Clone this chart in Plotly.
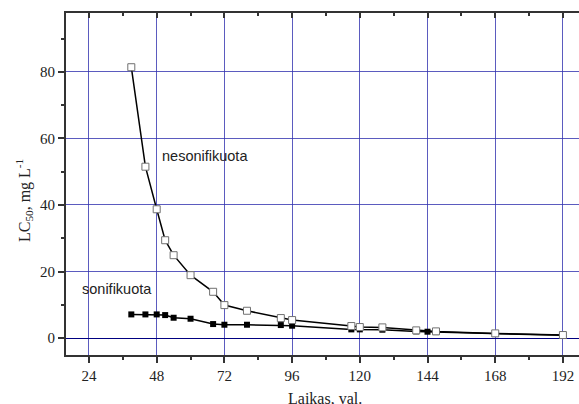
import plotly.graph_objects as go

hours_neson = [39, 44, 48, 51, 54, 60, 68, 72, 80, 92, 96, 117, 120, 128, 140, 147, 168, 192]
lc50_neson = [81.4, 51.5, 38.7, 29.4, 24.9, 18.9, 13.9, 9.9, 8.2, 6.0, 5.4, 3.6, 3.3, 3.2, 2.3, 2.0, 1.4, 0.9]

hours_son = [39, 44, 48, 51, 54, 60, 68, 72, 80, 92, 96, 117, 120, 128, 140, 144, 147, 168, 192]
lc50_son = [7.1, 7.1, 7.1, 6.9, 6.1, 5.8, 4.2, 4.0, 4.0, 3.9, 3.7, 2.6, 2.6, 2.5, 2.0, 1.9, 1.8, 1.3, 0.8]

x_ticks = [24, 48, 72, 96, 120, 144, 168, 192]
y_ticks = [0, 20, 40, 60, 80]

serif = "Liberation Serif"
sans = "Liberation Sans"

L, T, W, H = 66, 13, 513, 342  # plot area in pixels

def px_x(p):
    return (p - L) / W

def px_y(p):
    return (T + H - p) / H

fig = go.Figure()
fig.add_trace(go.Scatter(
    x=hours_son, y=lc50_son, mode="lines+markers",
    line=dict(color="black", width=1.5),
    marker=dict(symbol="square", size=6, color="black", line=dict(width=0)),
    showlegend=False, cliponaxis=False))
fig.add_trace(go.Scatter(
    x=hours_neson, y=lc50_neson, mode="lines+markers",
    line=dict(color="black", width=1.5),
    marker=dict(symbol="square", size=7, color="white", line=dict(color="#707070", width=1)),
    showlegend=False, cliponaxis=False))
fig.add_trace(go.Scatter(x=[], y=[], xaxis="x2", showlegend=False))

grid = "rgba(50,50,175,0.8)"
fig.update_layout(
    width=579, height=404,
    margin=dict(l=L, r=0, t=T, b=404 - T - H),
    paper_bgcolor="white", plot_bgcolor="white",
    xaxis=dict(
        range=[15.85, 197.7], tickvals=x_ticks, ticktext=[str(v) for v in x_ticks],
        showgrid=True, gridcolor=grid, gridwidth=1,
        zeroline=False, showline=True, linecolor="#333333", linewidth=2,
        ticks="outside", ticklen=6, tickwidth=1.5, tickcolor="#333333",
        minor=dict(ticks="outside", dtick=12, tick0=0, ticklen=3, tickcolor="#333333", showgrid=False),
        tickfont=dict(family=serif, size=15, color="#222222"),
    ),
    xaxis2=dict(
        overlaying="x", matches="x", side="top", range=[15.85, 197.7],
        tickvals=x_ticks, showticklabels=False, showgrid=False, zeroline=False,
        showline=True, linecolor="#333333", linewidth=2,
        ticks="inside", ticklen=5, tickwidth=1.5, tickcolor="#333333",
        minor=dict(ticks="inside", dtick=12, tick0=0, ticklen=3, tickcolor="#333333", showgrid=False),
    ),
    yaxis=dict(
        range=[-5.1, 97.7], tickvals=y_ticks, ticktext=[str(v) for v in y_ticks],
        showgrid=True, gridcolor=grid, gridwidth=1,
        zeroline=True, zerolinecolor="#000080", zerolinewidth=1,
        showline=True, linecolor="#333333", linewidth=2,
        ticks="outside", ticklen=6, tickwidth=1.5, tickcolor="#333333",
        minor=dict(ticks="outside", dtick=10, tick0=0, ticklen=3, tickcolor="#333333", showgrid=False),
        tickfont=dict(family=serif, size=15, color="#222222"),
    ),
    annotations=[
        dict(text="nesonifikuota", x=px_x(160), y=px_y(156), xref="paper", yref="paper",
             xanchor="left", yanchor="middle", showarrow=False,
             font=dict(family=sans, size=14.5, color="#222222")),
        dict(text="sonifikuota", x=px_x(80), y=px_y(289), xref="paper", yref="paper",
             xanchor="left", yanchor="middle", showarrow=False,
             font=dict(family=sans, size=14.5, color="#222222")),
        dict(text="Laikas, val.", x=px_x(325), y=px_y(388), xref="paper", yref="paper",
             xanchor="center", yanchor="top", showarrow=False,
             font=dict(family=serif, size=16, color="#222222")),
        dict(text="LC<sub>50</sub>, mg L<sup>-1</sup>", x=px_x(24), y=px_y(201), xref="paper", yref="paper",
             xanchor="center", yanchor="middle", textangle=-90, showarrow=False,
             font=dict(family=serif, size=16, color="#222222")),
    ],
)
fig.write_html("out.html")
